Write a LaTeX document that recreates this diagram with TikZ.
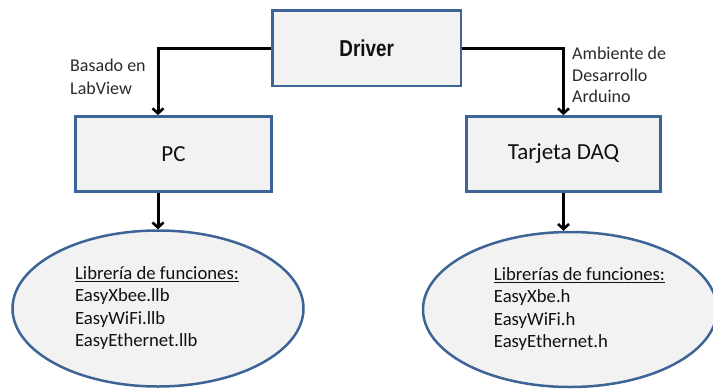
\documentclass[tikz,border=0pt]{standalone}
\usepackage{fontspec}
\setmainfont{Carlito}
\newfontfamily\drvfont{Liberation Sans}
\usetikzlibrary{arrows.meta,shapes.geometric}
\definecolor{boxfill}{HTML}{F2F2F2}
\definecolor{boxline}{HTML}{3C6496}
\definecolor{ink}{HTML}{111111}
\definecolor{labelink}{HTML}{2A2A2A}
\begin{document}
\begin{tikzpicture}[x=1pt,y=-1pt,
  blockbox/.style={draw=boxline,fill=boxfill,line width=2.8pt,inner sep=0pt,
    text=ink,font=\fontsize{23}{27}\selectfont},
  libshape/.style={ellipse,draw=boxline,fill=boxfill,line width=2.5pt,inner sep=0pt},
  libtext/.style={inner sep=0pt,text=ink},
  sidelabel/.style={inner sep=0pt,anchor=base west,text=labelink},
  flow/.style={draw=black,line width=3pt,-{Straight Barb[length=5pt,width=11pt,line width=2.6pt]}}]
\useasboundingbox (0,0) rectangle (713,389);

% blocks
\node[blockbox,minimum width=188.5pt,minimum height=75.5pt] (drv) at (366.75,48.25)
  {\drvfont\bfseries\scalebox{0.82}[1]{Driver}};
\node[blockbox,minimum width=196pt,minimum height=75pt] (pc) at (173.5,154) {PC};
\node[blockbox,minimum width=194pt,minimum height=75pt] (daq) at (563.5,154) {Tarjeta DAQ};

% library ellipses
\node[libshape,minimum width=291pt,minimum height=156pt] (lib1) at (158,308.5) {};
\node[libshape,minimum width=294pt,minimum height=155pt] (lib2) at (570,309.5) {};

\node[libtext] (t1) at (157,308.5) {\fontsize{18.7}{22.3}\selectfont
  \begin{tabular}{@{}l@{}}\underline{Librería de funciones:}\\ EasyXbee.llb\\ EasyWiFi.llb\\ EasyEthernet.llb\end{tabular}};
\node[libtext] (t2) at (579.5,309.5) {\fontsize{18.7}{22.3}\selectfont
  \begin{tabular}{@{}l@{}}\underline{Librerías de funciones:}\\ EasyXbe.h\\ EasyWiFi.h\\ EasyEthernet.h\end{tabular}};

% connector labels
\node[sidelabel] (lab1) at (70,71.7) {\fontsize{18}{23}\selectfont
  \begin{tabular}[t]{@{}l@{}}Basado en\\ LabView\end{tabular}};
\node[sidelabel] (lab2) at (572,59.5) {\fontsize{18}{21.7}\selectfont
  \begin{tabular}[t]{@{}l@{}}Ambiente de\\ Desarrollo\\ Arduino\end{tabular}};

% connectors
\draw[flow] (drv.west) -| (lib1.north |- pc.north);
\draw[flow] (drv.east) -| (daq.north);
\draw[flow] (lib1.north |- pc.south) -- (lib1.north);
\draw[flow] (daq.south) -- (daq.south |- lib2.north);
\end{tikzpicture}
\end{document}
